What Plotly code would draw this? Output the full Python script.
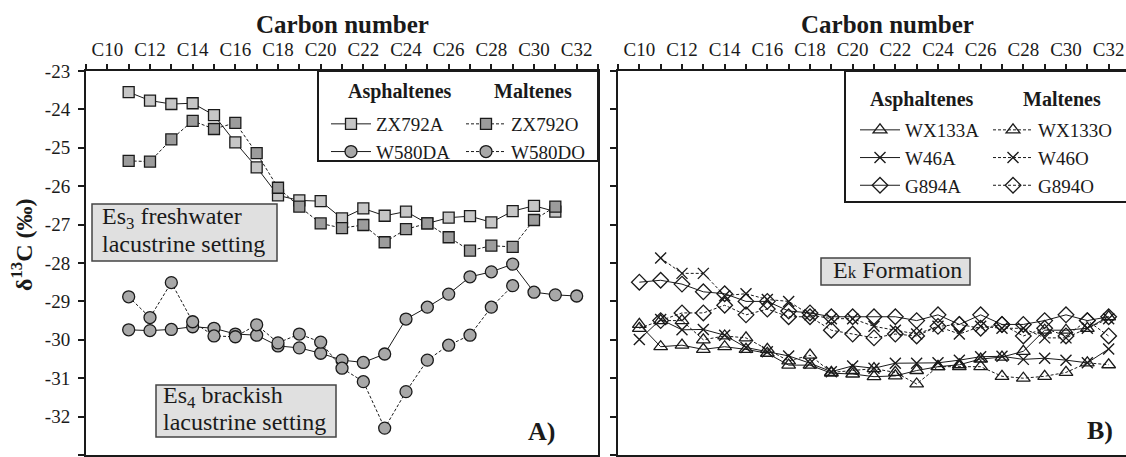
import plotly.graph_objects as go

W, H = 1126, 457
FONT = "Liberation Serif"

# ---------------- data ----------------
carbon_left = list(range(11, 32))          # C11..C31
carbon_w580 = list(range(11, 33))          # C11..C32
carbon_w580o = list(range(11, 30))         # C11..C29
carbon_right = list(range(10, 33))         # C10..C32
carbon_right_o = list(range(11, 33))       # C11..C32

zx792a = [-23.55, -23.77, -23.86, -23.84, -24.15, -24.86, -25.51, -26.24, -26.37, -26.39,
          -26.84, -26.58, -26.77, -26.66, -26.97, -26.82, -26.78, -26.94, -26.65, -26.51, -26.66]
zx792o = [-25.34, -25.36, -24.78, -24.30, -24.51, -24.35, -25.14, -26.04, -26.53, -26.97,
          -27.09, -27.01, -27.46, -27.12, -26.97, -27.33, -27.68, -27.55, -27.58, -26.88, -26.53]
w580da = [-29.74, -29.76, -29.73, -29.66, -29.70, -29.85, -29.88, -30.16, -30.21, -30.35,
          -30.53, -30.59, -30.37, -29.46, -29.15, -28.81, -28.36, -28.23, -28.03, -28.76, -28.83, -28.86]
w580do = [-28.88, -29.42, -28.51, -29.53, -29.90, -29.92, -29.61, -30.08, -29.85, -30.06,
          -30.74, -31.09, -32.30, -31.35, -30.53, -30.14, -29.88, -29.15, -28.59]

wx133a = [-29.60, -30.18, -30.14, -30.25, -30.18, -30.25, -30.35, -30.66, -30.66, -30.87, -30.89,
          -30.96, -30.94, -30.80, -30.70, -30.65, -30.50, -30.45, -30.30, -29.75, -29.75, -29.70, -29.40]
wx133o = [-29.70, -29.50, -29.50, -30.00, -29.90, -29.95, -30.25, -30.55, -30.40, -30.85, -30.80,
          -30.75, -30.85, -31.15, -30.70, -30.70, -30.70, -30.95, -31.00, -30.95, -30.85, -30.60, -30.65]
w46a = [-29.99, -29.47, -29.74, -29.73, -29.88, -30.20, -30.31, -30.42, -30.61, -30.83, -30.68,
        -30.74, -30.61, -30.61, -30.60, -30.53, -30.44, -30.43, -30.51, -30.48, -30.53, -30.60, -30.24]
w46o = [-27.87, -28.27, -28.27, -28.85, -28.80, -28.95, -29.00, -29.35, -29.45, -29.45,
        -29.65, -29.75, -29.85, -29.65, -29.85, -29.65, -29.70, -29.70, -29.95, -29.95, -29.70, -29.45]
g894a = [-28.50, -28.45, -28.55, -28.75, -28.80, -29.00, -29.00, -29.25, -29.30, -29.40, -29.40,
         -29.40, -29.40, -29.50, -29.35, -29.60, -29.35, -29.60, -29.60, -29.50, -29.35, -29.50, -29.40]
g894o = [-29.50, -29.30, -29.30, -29.10, -29.35, -29.20, -29.40, -29.40, -29.75, -29.85,
         -29.95, -29.85, -29.90, -29.65, -29.60, -29.70, -29.60, -29.90, -29.70, -29.90, -29.50, -29.90]

x_tickvals = list(range(10, 33, 2))
x_ticktext = [f"C{c}" for c in x_tickvals]
x_minorvals = list(range(9, 34))
y_tickvals = list(range(-33, -22))
y_ticktext = [str(v) for v in y_tickvals]

# ---------------- helpers ----------------
def px(x):
    return x / W

def py(y):
    return 1 - y / H

INK = "#1a1a1a"
DASH = "3px,2px"

fig = go.Figure()

def add(xv, yv, name, symbol, fill, dash, xa, ya, legend, size=11, lw=1.3):
    fig.add_trace(go.Scatter(
        x=xv, y=yv, name=name, mode="lines+markers",
        xaxis=xa, yaxis=ya, legend=legend,
        line=dict(color=INK, width=1, dash=dash),
        marker=dict(symbol=symbol, size=size, color=fill,
                    line=dict(color=INK, width=lw)),
    ))

# left panel
add(carbon_left, zx792a, "ZX792A", "square", "#c6c6c6", "solid", "x", "y", "legend")
add(carbon_w580, w580da, "W580DA", "circle", "#a8a8a8", "solid", "x", "y", "legend", size=12)
add(carbon_left, zx792o, "ZX792O", "square", "#9c9c9c", DASH, "x", "y", "legend2")
add(carbon_w580o, w580do, "W580DO", "circle", "#a8a8a8", DASH, "x", "y", "legend2", size=12)

# right panel
add(carbon_right, wx133a, "WX133A", "triangle-up-open", INK, "solid", "x2", "y2", "legend3", size=12)
add(carbon_right, w46a, "W46A", "x-thin-open", INK, "solid", "x2", "y2", "legend3", size=11, lw=1.4)
add(carbon_right, g894a, "G894A", "diamond-open", INK, "solid", "x2", "y2", "legend3", size=12)
add(carbon_right, wx133o, "WX133O", "triangle-up-open", INK, DASH, "x2", "y2", "legend4", size=12)
add(carbon_right_o, w46o, "W46O", "x-thin-open", INK, DASH, "x2", "y2", "legend4", size=11, lw=1.4)
add(carbon_right_o, g894o, "G894O", "diamond-open", INK, DASH, "x2", "y2", "legend4", size=12)

tickfont = dict(family=FONT, size=19, color=INK)
xcommon = dict(side="top", tickmode="array", tickvals=x_tickvals, ticktext=x_ticktext,
               ticks="outside", ticklen=5, tickwidth=1.5, tickcolor=INK,
               minor=dict(tickmode="array", tickvals=x_minorvals, ticks="outside",
                          ticklen=5, tickwidth=1.5, tickcolor=INK, showgrid=False),
               showline=True, linewidth=2, linecolor=INK, mirror=True, automargin=False,
               showgrid=False, zeroline=False, tickfont=tickfont, ticklabelstandoff=0)
ycommon = dict(range=[-33, -23], tickmode="array", tickvals=y_tickvals, ticktext=y_ticktext,
               ticks="outside", ticklen=6, tickwidth=1.5, tickcolor=INK, automargin=False,
               showline=True, linewidth=2, linecolor=INK,
               showgrid=False, zeroline=False, tickfont=tickfont,
               domain=[py(455), py(71)])

fig.update_layout(
    template="none",
    width=W, height=H, margin=dict(l=0, r=0, t=0, b=0, autoexpand=False),
    paper_bgcolor="white", plot_bgcolor="white",
    font=dict(family=FONT, color=INK),
    xaxis=dict(xcommon, domain=[px(86), px(598)], range=[9, 33], anchor="y"),
    yaxis=dict(ycommon, anchor="x", mirror=True, ticklabelstandoff=4),
    xaxis2=dict(xcommon, domain=[px(618), 1], range=[9, 9 + (W - 618) / 21.333], anchor="y2"),
    yaxis2=dict(ycommon, anchor="x2", showticklabels=False, mirror=False),
    showlegend=True,
)

def legend_cfg(x, y):
    return dict(x=px(x), y=py(y), xanchor="left", yanchor="top",
                bgcolor="rgba(0,0,0,0)", borderwidth=0, itemwidth=40,
                font=dict(family=FONT, size=19, color=INK),
                itemclick=False, itemdoubleclick=False, tracegroupgap=0)

fig.update_layout(
    legend=legend_cfg(326, 105),
    legend2=legend_cfg(461, 105),
    legend3=legend_cfg(855, 111),
    legend4=legend_cfg(988, 111),
)

# legend frames
fig.add_shape(type="rect", xref="paper", yref="paper", x0=px(318), x1=px(598), y0=py(161), y1=py(71),
              line=dict(color=INK, width=2), fillcolor="rgba(0,0,0,0)", layer="below")
fig.add_shape(type="rect", xref="paper", yref="paper", x0=px(845), x1=px(1140), y0=py(202), y1=py(71),
              line=dict(color=INK, width=2), fillcolor="rgba(0,0,0,0)", layer="below")

def text(t, x, y, size, xanchor="center", angle=0):
    fig.add_annotation(text=t, x=px(x), y=py(y), xref="paper", yref="paper",
                       xanchor=xanchor, yanchor="middle", textangle=angle,
                       showarrow=False, font=dict(family=FONT, size=size, color=INK))

# legend headers
text("<b>Asphaltenes</b>", 400, 91, 20)
text("<b>Maltenes</b>", 533, 91, 20)
text("<b>Asphaltenes</b>", 922, 99, 20)
text("<b>Maltenes</b>", 1062, 99, 20)

# axis titles
text("<b>Carbon number</b>", 342, 25, 25)
text("<b>Carbon number</b>", 887, 25, 25)
text("<b>δ<sup>13</sup>C (‰)</b>", 22, 245, 24, angle=-90)

# setting boxes
def box(x0, x1, y0, y1):
    fig.add_shape(type="rect", xref="paper", yref="paper", x0=px(x0), x1=px(x1), y0=py(y1), y1=py(y0),
                  line=dict(color="#444", width=1.5), fillcolor="#e0e0e0", layer="above")

box(92, 277, 204, 261)
text("Es<sub>3</sub> freshwater", 100, 218, 24, xanchor="left")
text("lacustrine setting", 100, 244, 24, xanchor="left")
box(156, 336, 385, 437)
text("Es<sub>4</sub> brackish", 161, 397, 24, xanchor="left")
text("lacustrine setting", 161, 422, 24, xanchor="left")
box(821, 970, 258, 285)
text("E<span style='font-size:17px'>k</span> Formation", 831, 270, 24, xanchor="left")

text("<b>A)</b>", 541, 431, 26)
text("<b>B)</b>", 1100, 430, 26)

fig.write_html("out.html", config={"displayModeBar": False},
               post_script="document.body.style.margin='0px';")
